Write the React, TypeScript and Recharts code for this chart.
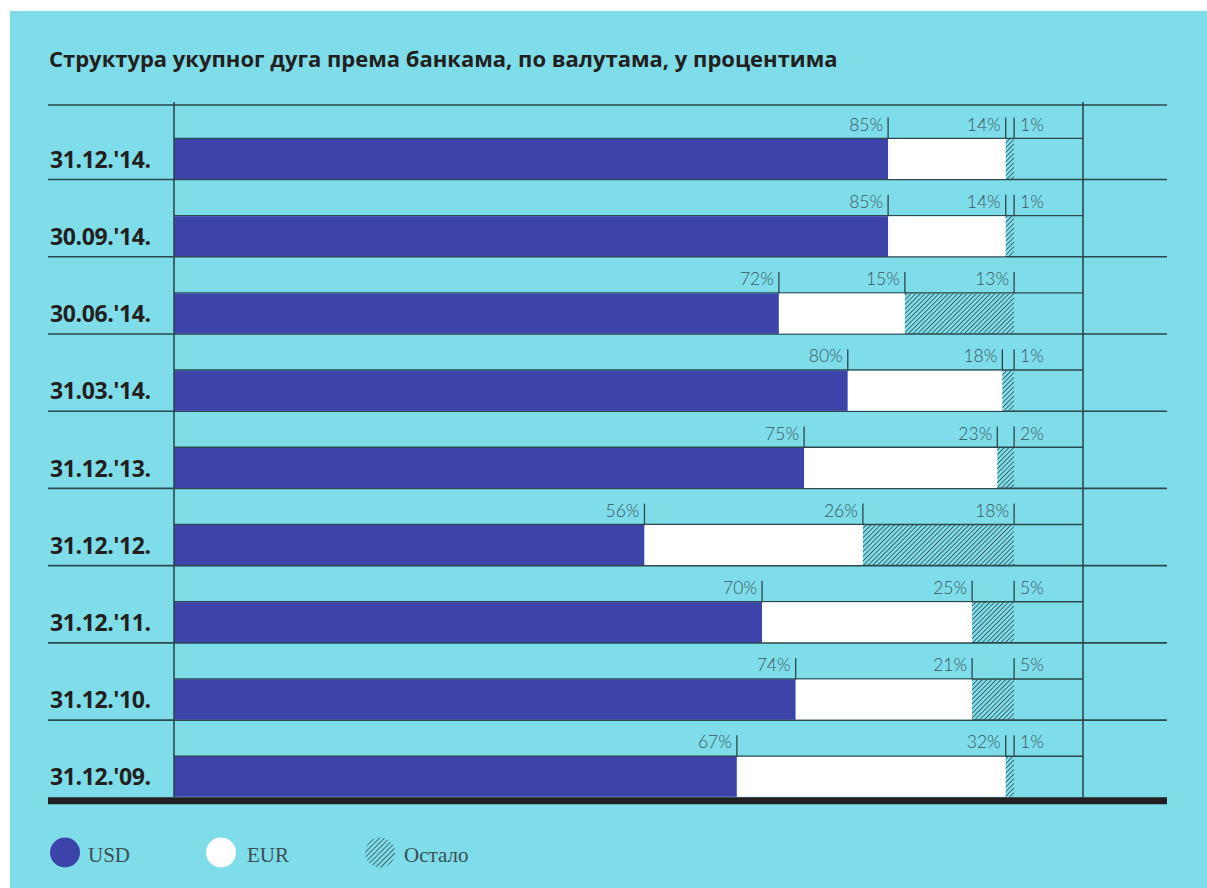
import React from 'react';
import { BarChart, Bar, XAxis, YAxis, ReferenceLine, LabelList } from 'recharts';

const title = 'Структура укупног дуга према банкама, по валутама, у процентима';
const dates = ["31.12.'14.", "30.09.'14.", "30.06.'14.", "31.03.'14.", "31.12.'13.", "31.12.'12.", "31.12.'11.", "31.12.'10.", "31.12.'09."];
const usd = [85, 85, 72, 80.2, 75, 56, 70, 74, 67];
const eur = [14, 14, 15, 18.4, 23, 26, 25, 21, 32];
const other = [1, 1, 13, 1.4, 2, 18, 5, 5, 1];
const seriesNames = ['USD', 'EUR', 'Остало'];

const data = dates.map((d, i) => ({ date: d, usd: usd[i], eur: eur[i], other: other[i], spacer: 0 }));

const W = 1207;
const H = 888;
const CYAN = '#7edde9';
const USD_C = '#3c44aa';
const EUR_C = '#ffffff';
const LINE_C = '#2c474d';
const DARK = '#231f20';
const LABEL_C = '#3a575e';
const HATCH_C = '#22343a';
const LINE_L = 48;
const LINE_R = 1167;
const SPACER = 37;
const BAR = 40;

const margin = { top: 102, right: 124, bottom: 91, left: 48 };

const UsdBg = (props: any) => {
  const { x, y, width, height, index } = props;
  const sepY = index === 0 ? y - SPACER + 3 : y - SPACER + 0.3;
  return (
    <g>
      <line x1={LINE_L} x2={LINE_R} y1={sepY} y2={sepY} stroke={LINE_C} strokeWidth={1.6} />
      <line x1={x} x2={x + width} y1={y - 0.6} y2={y - 0.6} stroke={LINE_C} strokeWidth={1.4} />
      {index === dates.length - 1 ? (
        <line x1={LINE_L} x2={LINE_R} y1={y + height + 4} y2={y + height + 4} stroke={DARK} strokeWidth={7} />
      ) : null}
    </g>
  );
};

const makeLabel = (kind: string) => (props: any) => {
  const vb = props.viewBox || {};
  const x = Number(props.x ?? vb.x);
  const y = Number(props.y ?? vb.y);
  const width = Number(props.width ?? vb.width);
  const v = Math.round(Number(props.value));
  const xe = x + width;
  const right = kind === 'other' && v < 10;
  return (
    <g>
      <line x1={xe} x2={xe} y1={y - 21.5} y2={y} stroke={LINE_C} strokeWidth={1.3} />
      <text
        x={right ? xe + 6 : xe - 5}
        y={y - 8.3}
        textAnchor={right ? 'start' : 'end'}
        fontFamily="Lato, 'Open Sans', sans-serif"
        fontWeight={300}
        fontSize={17.5}
        fill={LABEL_C}
      >
        {v}%
      </text>
    </g>
  );
};

const DateTick = (props: any) => {
  const { y, payload } = props;
  return (
    <text
      x={50}
      y={y + 27}
      textAnchor="start"
      fontFamily="'Open Sans', sans-serif"
      fontWeight={700}
      fontSize={23}
      letterSpacing={-0.4}
      fill={DARK}
    >
      {payload.value}
    </text>
  );
};

const HatchDefs = ({ id, size }: { id: string; size: number }) => (
  <pattern id={id} width={size} height={size} patternUnits="userSpaceOnUse" patternTransform="rotate(45)">
    <line x1={0} y1={0} x2={0} y2={size} stroke={HATCH_C} strokeWidth={1.3} />
  </pattern>
);

const legendItems = [
  { name: seriesNames[0], fill: USD_C, cx: 65, tx: 88 },
  { name: seriesNames[1], fill: EUR_C, cx: 221, tx: 247 },
  { name: seriesNames[2], fill: 'url(#hatchLegend)', cx: 380, tx: 404 },
];

export default function App() {
  return (
    <div style={{ position: 'absolute', left: 0, top: 0, width: W, height: H, background: '#ffffff' }}>
      <div style={{ position: 'absolute', left: 10, top: 11, width: W - 10, height: H - 11, background: CYAN }} />
      <div style={{ position: 'absolute', left: 0, top: 0 }}>
        <BarChart
          width={W}
          height={H}
          data={data}
          layout="vertical"
          margin={margin}
          barGap={0}
          barCategoryGap={0}
        >
          <defs>
            <HatchDefs id="hatchBar" size={3.3} />
          </defs>
          <XAxis type="number" domain={[0, 108.2]} hide />
          <YAxis
            type="category"
            dataKey="date"
            width={126}
            axisLine={false}
            tickLine={false}
            tick={<DateTick />}
            interval={0}
          />
          <Bar
            dataKey="spacer"
            stackId="spacer"
            barSize={SPACER}
            fill="none"
            isAnimationActive={false}
            legendType="none"
          />
          <Bar dataKey="usd" name={seriesNames[0]} stackId="a" barSize={BAR} fill={USD_C} isAnimationActive={false} background={<UsdBg />}>
            <LabelList dataKey="usd" content={makeLabel('usd')} />
          </Bar>
          <Bar dataKey="eur" name={seriesNames[1]} stackId="a" barSize={BAR} fill={EUR_C} isAnimationActive={false}>
            <LabelList dataKey="eur" content={makeLabel('eur')} />
          </Bar>
          <Bar dataKey="other" name={seriesNames[2]} stackId="a" barSize={BAR} fill="url(#hatchBar)" isAnimationActive={false}>
            <LabelList dataKey="other" content={makeLabel('other')} />
          </Bar>
          <ReferenceLine x={0} stroke={LINE_C} strokeWidth={1.6} />
          <ReferenceLine x={108.2} stroke={LINE_C} strokeWidth={1.6} />
        </BarChart>
      </div>
      <svg
        width={W}
        height={H}
        style={{ position: 'absolute', left: 0, top: 0, pointerEvents: 'none' }}
      >
        <defs>
          <HatchDefs id="hatchLegend" size={3.6} />
        </defs>
        <text
          x={49}
          y={67}
          fontFamily="'Open Sans', sans-serif"
          fontWeight={700}
          fontSize={22}
          fill={DARK}
        >
          {title}
        </text>
        {legendItems.map((it) => (
          <g key={it.name}>
            <circle cx={it.cx} cy={852.5} r={15} fill={it.fill} />
            <text
              x={it.tx}
              y={862}
              fontFamily="'Liberation Serif', serif"
              fontSize={21}
              fill="#3a4f55"
            >
              {it.name}
            </text>
          </g>
        ))}
      </svg>
    </div>
  );
}
